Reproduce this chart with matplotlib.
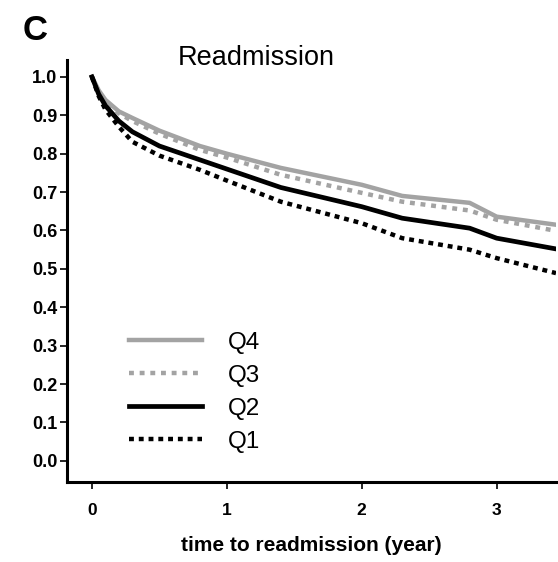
import matplotlib.pyplot as plt
import numpy as np

plt.rcParams['font.family'] = ['Liberation Sans', 'DejaVu Sans']

# values
t = [0.0, 0.05, 0.1, 0.2, 0.3, 0.5, 0.8, 1.0, 1.4, 2.0, 2.3, 2.8, 3.0, 3.44]
q4 = [1.0, 0.965, 0.94, 0.91, 0.893, 0.86, 0.82, 0.80, 0.763, 0.719, 0.69, 0.672, 0.636, 0.615]
q3 = [1.0, 0.96, 0.935, 0.905, 0.885, 0.852, 0.81, 0.79, 0.745, 0.698, 0.675, 0.652, 0.628, 0.599]
q2 = [1.0, 0.955, 0.925, 0.885, 0.857, 0.82, 0.784, 0.76, 0.712, 0.662, 0.632, 0.606, 0.58, 0.552]
q1 = [1.0, 0.95, 0.915, 0.87, 0.831, 0.795, 0.758, 0.73, 0.675, 0.619, 0.58, 0.55, 0.528, 0.489]

labels = ["Q4", "Q3", "Q2", "Q1"]
xticks = [0, 1, 2, 3]
yticks = np.round(np.arange(0, 1.01, 0.1), 1)


def main():
    fig = plt.figure(figsize=(5.58, 5.62), dpi=100)
    ax = fig.add_axes([67 / 558, 80 / 562, 489 / 558, 422 / 562])

    gray = "#a3a3a3"
    ax.plot(t, q4, color=gray, lw=3.2, label=labels[0])
    ax.plot(t, q3, color=gray, lw=3.2, linestyle=(0, (1.1, 1.3)), label=labels[1])
    ax.plot(t, q2, color="black", lw=3.4, label=labels[2])
    ax.plot(t, q1, color="black", lw=3.2, linestyle=(0, (1.1, 1.1)), label=labels[3])

    ax.set_xlim(-0.185, 3.44)
    ax.set_ylim(-0.055, 1.044)
    ax.set_xticks(xticks)
    ax.set_yticks(yticks)
    ax.set_yticklabels([f"{v:.1f}" for v in yticks])

    for s in ["top", "right"]:
        ax.spines[s].set_visible(False)
    for s in ["left", "bottom"]:
        ax.spines[s].set_linewidth(2.2)

    ax.tick_params(axis="y", length=5, width=1.2, labelsize=13, pad=2)
    ax.tick_params(axis="x", length=5, width=1.2, labelsize=12.5, pad=10)
    for lab in ax.get_xticklabels() + ax.get_yticklabels():
        lab.set_fontweight("bold")

    ax.set_xlabel("time to readmission (year)", fontsize=15, fontweight="bold", labelpad=13)
    ax.text(0.227, 0.988, "Readmission", transform=ax.transAxes, fontsize=19.5,
            ha="left", va="baseline")
    fig.text(0.04, 0.975, "C", fontsize=25, fontweight="bold", va="top")

    ax.legend(loc="upper left", bbox_to_anchor=(0.102, 0.385), frameon=False,
              fontsize=17.5, handlelength=3.0, handletextpad=1.05,
              labelspacing=0.45, borderpad=0)

    plt.savefig("out.png", dpi=100)


if __name__ == "__main__":
    main()
